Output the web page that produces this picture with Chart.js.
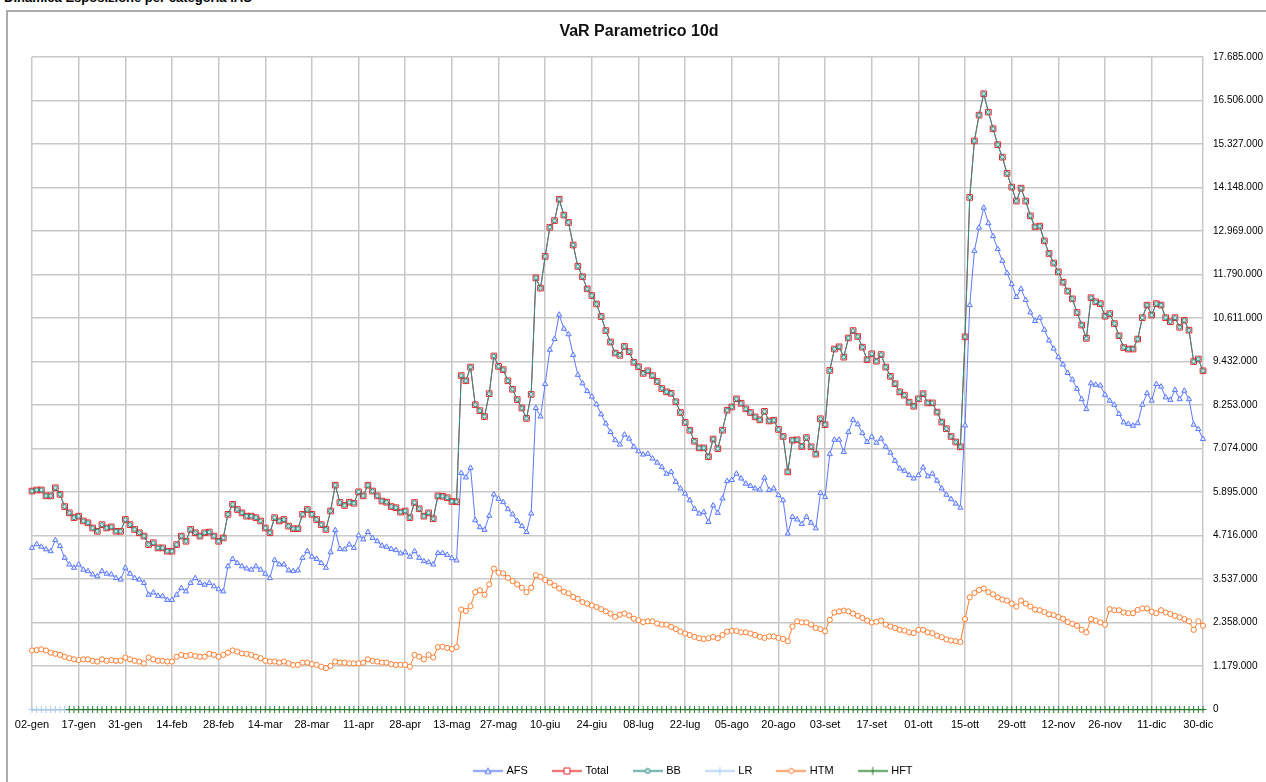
<!DOCTYPE html>
<html>
<head>
<meta charset="utf-8">
<script src="https://cdn.jsdelivr.net/npm/chart.js@4.4.1/dist/chart.umd.min.js"></script>
<style>
  html, body { margin: 0; padding: 0; background: #fff; overflow: hidden; }
  #sheetTitle { position: absolute; left: 4px; top: -10px; font: bold 13px 'Liberation Sans', Arial, sans-serif; color: #000; white-space: nowrap; }
  #frame { position: absolute; left: 6px; top: 10px; width: 1300px; height: 800px; border: 2px solid #ababab; }
  #chart { position: absolute; left: 0; top: 0; }
</style>
</head>
<body>
<div id="sheetTitle">Dinamica Esposizione per categoria IAS</div>
<div id="frame"></div>
<canvas id="chart" width="1266" height="782"></canvas>
<script>
// one label every 10 business days
const xTickLabels = ["02-gen", "17-gen", "31-gen", "14-feb", "28-feb", "14-mar", "28-mar", "11-apr", "28-apr",
  "13-mag", "27-mag", "10-giu", "24-giu", "08-lug", "22-lug", "05-ago", "20-ago", "03-set", "17-set",
  "01-ott", "15-ott", "29-ott", "12-nov", "26-nov", "11-dic", "30-dic"];

// daily values, in millions
const totalValues = [
  5.92, 5.95, 5.95, 5.79, 5.79, 6.01, 5.83, 5.50, 5.33, 5.20,
  5.24, 5.11, 5.06, 4.92, 4.83, 5.01, 4.92, 4.95, 4.83, 4.83,
  5.15, 5.01, 4.88, 4.79, 4.70, 4.47, 4.52, 4.38, 4.38, 4.29,
  4.29, 4.47, 4.70, 4.56, 4.88, 4.79, 4.70, 4.79, 4.81, 4.70,
  4.56, 4.65, 5.29, 5.56, 5.42, 5.33, 5.24, 5.24, 5.20, 5.11,
  4.92, 4.79, 5.20, 5.11, 5.15, 4.97, 4.90, 4.90, 5.29, 5.42,
  5.29, 5.15, 5.01, 4.88, 5.38, 6.08, 5.61, 5.53, 5.62, 5.59,
  5.90, 5.79, 6.08, 5.92, 5.79, 5.65, 5.62, 5.50, 5.47, 5.35,
  5.38, 5.20, 5.61, 5.44, 5.24, 5.33, 5.17, 5.79, 5.78, 5.74,
  5.64, 5.63, 9.05, 8.91, 9.28, 8.26, 8.10, 7.94, 8.56, 9.58,
  9.30, 9.21, 8.91, 8.68, 8.40, 8.17, 7.89, 8.54, 11.70, 11.42,
  12.28, 13.07, 13.25, 13.83, 13.40, 13.20, 12.59, 12.01, 11.73, 11.40,
  11.22, 10.99, 10.65, 10.27, 9.96, 9.66, 9.60, 9.84, 9.70, 9.41,
  9.29, 9.11, 9.18, 9.05, 8.89, 8.70, 8.61, 8.57, 8.34, 8.05,
  7.78, 7.57, 7.27, 7.09, 7.09, 6.85, 7.33, 7.07, 7.57, 8.11,
  8.20, 8.42, 8.30, 8.15, 8.05, 7.93, 7.85, 8.08, 7.82, 7.84,
  7.59, 7.40, 6.44, 7.30, 7.31, 7.13, 7.37, 7.12, 6.92, 7.88,
  7.72, 9.19, 9.77, 9.83, 9.55, 10.07, 10.27, 10.11, 9.82, 9.48,
  9.64, 9.44, 9.62, 9.28, 9.03, 8.83, 8.61, 8.52, 8.33, 8.22,
  8.42, 8.56, 8.31, 8.31, 8.06, 7.79, 7.61, 7.40, 7.25, 7.12,
  10.10, 13.88, 15.41, 16.11, 16.69, 16.19, 15.74, 15.31, 14.97, 14.53,
  14.16, 13.78, 14.13, 13.78, 13.38, 13.08, 13.10, 12.70, 12.36, 12.10,
  11.86, 11.58, 11.34, 11.13, 10.76, 10.42, 10.06, 11.16, 11.05, 11.00,
  10.66, 10.73, 10.46, 10.13, 9.81, 9.77, 9.77, 10.04, 10.62, 10.96,
  10.69, 11.00, 10.96, 10.62, 10.51, 10.62, 10.36, 10.55, 10.28, 9.43,
  9.50, 9.18
];

// BB lies exactly on top of Total in the picture
const bbValues = totalValues.slice();

const afsValues = [
  4.38, 4.48, 4.41, 4.34, 4.29, 4.59, 4.43, 4.11, 3.93, 3.84,
  3.93, 3.79, 3.75, 3.66, 3.61, 3.75, 3.68, 3.66, 3.56, 3.52,
  3.84, 3.68, 3.56, 3.52, 3.43, 3.11, 3.17, 3.08, 3.07, 2.97,
  2.97, 3.11, 3.29, 3.20, 3.43, 3.56, 3.43, 3.38, 3.43, 3.34,
  3.26, 3.20, 3.88, 4.08, 3.97, 3.88, 3.82, 3.79, 3.88, 3.79,
  3.68, 3.56, 4.05, 3.93, 3.93, 3.77, 3.75, 3.77, 4.11, 4.29,
  4.14, 4.08, 3.97, 3.84, 4.26, 4.86, 4.35, 4.34, 4.47, 4.38,
  4.72, 4.61, 4.81, 4.65, 4.56, 4.44, 4.41, 4.35, 4.32, 4.23,
  4.26, 4.14, 4.29, 4.11, 4.02, 3.99, 3.93, 4.24, 4.24, 4.19,
  4.10, 4.04, 6.41, 6.29, 6.55, 5.13, 4.94, 4.87, 5.25, 5.83,
  5.71, 5.62, 5.43, 5.29, 5.11, 4.97, 4.81, 5.31, 8.17, 7.94,
  8.82, 9.75, 10.04, 10.70, 10.32, 10.17, 9.61, 9.07, 8.84, 8.63,
  8.48, 8.27, 8.00, 7.75, 7.52, 7.30, 7.18, 7.45, 7.34, 7.12,
  7.00, 6.91, 6.93, 6.80, 6.69, 6.57, 6.39, 6.44, 6.17, 5.99,
  5.85, 5.67, 5.44, 5.31, 5.35, 5.08, 5.53, 5.33, 5.72, 6.19,
  6.22, 6.39, 6.26, 6.12, 6.06, 5.99, 5.96, 6.28, 5.95, 5.99,
  5.81, 5.67, 4.77, 5.22, 5.15, 5.03, 5.22, 5.06, 4.91, 5.87,
  5.76, 6.92, 7.31, 7.31, 6.98, 7.52, 7.85, 7.73, 7.49, 7.25,
  7.39, 7.23, 7.34, 7.12, 6.96, 6.74, 6.53, 6.47, 6.35, 6.26,
  6.35, 6.56, 6.32, 6.39, 6.20, 5.99, 5.82, 5.70, 5.58, 5.47,
  7.70, 10.96, 12.43, 13.06, 13.60, 13.18, 12.83, 12.48, 12.16, 11.83,
  11.53, 11.18, 11.40, 11.10, 10.76, 10.53, 10.62, 10.29, 10.00, 9.78,
  9.55, 9.35, 9.12, 8.94, 8.69, 8.41, 8.14, 8.84, 8.80, 8.78,
  8.53, 8.37, 8.26, 8.01, 7.78, 7.74, 7.69, 7.76, 8.26, 8.57,
  8.37, 8.82, 8.75, 8.46, 8.39, 8.66, 8.41, 8.64, 8.41, 7.72,
  7.60, 7.33
];

const htmValues = [
  1.60, 1.61, 1.63, 1.60, 1.54, 1.51, 1.48, 1.43, 1.39, 1.36,
  1.34, 1.36, 1.36, 1.32, 1.30, 1.36, 1.32, 1.34, 1.32, 1.32,
  1.41, 1.36, 1.32, 1.30, 1.25, 1.41, 1.36, 1.32, 1.32, 1.30,
  1.30, 1.43, 1.48, 1.45, 1.48, 1.45, 1.43, 1.43, 1.51, 1.48,
  1.43, 1.48, 1.54, 1.60, 1.57, 1.52, 1.51, 1.48, 1.43, 1.39,
  1.32, 1.30, 1.30, 1.27, 1.30, 1.25, 1.21, 1.21, 1.27, 1.27,
  1.23, 1.21, 1.16, 1.12, 1.18, 1.30, 1.27, 1.27, 1.25, 1.25,
  1.25, 1.27, 1.36, 1.32, 1.30, 1.27, 1.27, 1.23, 1.21, 1.21,
  1.21, 1.16, 1.48, 1.43, 1.36, 1.48, 1.41, 1.69, 1.70, 1.67,
  1.64, 1.69, 2.71, 2.67, 2.80, 3.18, 3.23, 3.11, 3.39, 3.82,
  3.71, 3.69, 3.57, 3.48, 3.39, 3.30, 3.18, 3.30, 3.64, 3.60,
  3.51, 3.44, 3.36, 3.28, 3.19, 3.15, 3.05, 3.00, 2.91, 2.87,
  2.82, 2.78, 2.72, 2.66, 2.60, 2.51, 2.57, 2.60, 2.55, 2.46,
  2.42, 2.37, 2.39, 2.39, 2.33, 2.30, 2.30, 2.24, 2.18, 2.11,
  2.06, 2.02, 1.97, 1.93, 1.91, 1.93, 1.97, 1.93, 2.02, 2.11,
  2.13, 2.13, 2.09, 2.09, 2.06, 2.02, 1.97, 1.94, 1.98, 1.98,
  1.94, 1.91, 1.85, 2.25, 2.39, 2.36, 2.36, 2.30, 2.21, 2.18,
  2.12, 2.43, 2.63, 2.66, 2.68, 2.66, 2.60, 2.54, 2.48, 2.41,
  2.36, 2.38, 2.41, 2.30, 2.25, 2.21, 2.16, 2.14, 2.09, 2.07,
  2.16, 2.16, 2.09, 2.07, 2.00, 1.96, 1.90, 1.87, 1.85, 1.83,
  2.45, 3.04, 3.16, 3.24, 3.28, 3.18, 3.12, 3.04, 2.98, 2.95,
  2.87, 2.79, 2.95, 2.87, 2.79, 2.71, 2.69, 2.64, 2.58, 2.56,
  2.51, 2.46, 2.37, 2.32, 2.27, 2.16, 2.09, 2.45, 2.41, 2.36,
  2.30, 2.72, 2.69, 2.69, 2.63, 2.61, 2.61, 2.70, 2.74, 2.74,
  2.65, 2.61, 2.69, 2.63, 2.59, 2.54, 2.50, 2.45, 2.39, 2.16,
  2.39, 2.27
];

// LR only has the first 8 days, HFT starts on day 8; both sit at zero
const lrValues = [0, 0, 0, 0, 0, 0, 0, 0];
const hftStart = 8;
const hftValues = [
  0, 0, 0, 0, 0, 0, 0, 0, 0, 0, 0, 0, 0, 0, 0, 0, 0, 0, 0, 0,
  0, 0, 0, 0, 0, 0, 0, 0, 0, 0, 0, 0, 0, 0, 0, 0, 0, 0, 0, 0,
  0, 0, 0, 0, 0, 0, 0, 0, 0, 0, 0, 0, 0, 0, 0, 0, 0, 0, 0, 0,
  0, 0, 0, 0, 0, 0, 0, 0, 0, 0, 0, 0, 0, 0, 0, 0, 0, 0, 0, 0,
  0, 0, 0, 0, 0, 0, 0, 0, 0, 0, 0, 0, 0, 0, 0, 0, 0, 0, 0, 0,
  0, 0, 0, 0, 0, 0, 0, 0, 0, 0, 0, 0, 0, 0, 0, 0, 0, 0, 0, 0,
  0, 0, 0, 0, 0, 0, 0, 0, 0, 0, 0, 0, 0, 0, 0, 0, 0, 0, 0, 0,
  0, 0, 0, 0, 0, 0, 0, 0, 0, 0, 0, 0, 0, 0, 0, 0, 0, 0, 0, 0,
  0, 0, 0, 0, 0, 0, 0, 0, 0, 0, 0, 0, 0, 0, 0, 0, 0, 0, 0, 0,
  0, 0, 0, 0, 0, 0, 0, 0, 0, 0, 0, 0, 0, 0, 0, 0, 0, 0, 0, 0,
  0, 0, 0, 0, 0, 0, 0, 0, 0, 0, 0, 0, 0, 0, 0, 0, 0, 0, 0, 0,
  0, 0, 0, 0, 0, 0, 0, 0, 0, 0, 0, 0, 0, 0, 0, 0, 0, 0, 0, 0,
  0, 0, 0, 0
];

const FONT = "'Liberation Sans', Arial, sans-serif";
const GRID = '#c8c8c8';

const toPoints = (values, start) => values.map((v, k) => ({ x: start + k, y: v }));

function makeSeries(label, values, start, color, style, radius, fill, order) {
  return {
    label, data: toPoints(values, start), order,
    borderColor: color, backgroundColor: color, borderWidth: 1,
    pointStyle: style, pointRadius: radius, pointHoverRadius: radius,
    pointBorderColor: color, pointBackgroundColor: fill, pointBorderWidth: 1,
    tension: 0, fill: false, clip: false
  };
}

// little "line + marker" picture like the Excel legend
function legendIcon(ds) {
  const c = document.createElement('canvas');
  c.width = 30; c.height = 11;
  const g = c.getContext('2d');
  g.strokeStyle = ds.borderColor; g.lineWidth = 1.5;
  g.beginPath(); g.moveTo(0, 5.5); g.lineTo(30, 5.5); g.stroke();
  const cx = 15, cy = 5.5;
  g.lineWidth = 1;
  g.strokeStyle = ds.pointBorderColor; g.fillStyle = ds.pointBackgroundColor;
  g.beginPath();
  if (ds.pointStyle === 'triangle') {
    g.moveTo(cx, cy - 3); g.lineTo(cx + 3, cy + 2.5); g.lineTo(cx - 3, cy + 2.5); g.closePath(); g.fill(); g.stroke();
  } else if (ds.pointStyle === 'rect') {
    g.fillStyle = '#fff'; g.rect(cx - 3, cy - 3, 6, 6); g.fill(); g.stroke();
  } else if (ds.pointStyle === 'circle') {
    g.arc(cx, cy, 2.5, 0, Math.PI * 2); g.fill(); g.stroke();
  } else {
    g.moveTo(cx, cy - 4); g.lineTo(cx, cy + 4); g.moveTo(cx - 4, cy); g.lineTo(cx + 4, cy); g.stroke();
  }
  return c;
}

// move title and legend to where Excel put them
const placeBlocks = {
  id: 'placeBlocks',
  afterLayout(chart) {
    const lg = chart.legend;
    const w = lg.right - lg.left;
    lg.left = 449; lg.right = 449 + w;
    lg.top += 4.5; lg.bottom += 4.5;
    const t = chart.titleBlock;
    t.left -= 10; t.right -= 10;
  }
};

const fmtThousands = v => {
  const n = Math.round(v * 1000) * 1000;
  return n === 0 ? '0' : String(n).replace(/\B(?=(\d{3})+(?!\d))/g, '.');
};

new Chart(document.getElementById('chart'), {
  type: 'line',
  data: {
    datasets: [
      makeSeries('AFS', afsValues, 0, '#5b79ff', 'triangle', 3, '#e2e8ff', 6),
      makeSeries('Total', totalValues, 0, '#e8262a', 'rect', 4, 'rgba(255,255,255,0)', 5),
      makeSeries('BB', bbValues, 0, '#2f8f89', 'circle', 2, '#c4e4e1', 4),
      makeSeries('LR', lrValues, 0, '#a4cbf4', 'cross', 3.5, '#a4cbf4', 3),
      makeSeries('HTM', htmValues, 0, '#ff7c2c', 'circle', 2.6, '#ffffff', 2),
      makeSeries('HFT', hftValues, hftStart, '#1f7d28', 'cross', 3.5, '#1f7d28', 1)
    ]
  },
  plugins: [placeBlocks],
  options: {
    responsive: false,
    animation: false,
    devicePixelRatio: 1,
    events: [],
    layout: { padding: { left: 32, right: 0, top: 0, bottom: 0 } },
    plugins: {
      tooltip: { enabled: false },
      title: {
        display: true,
        text: 'VaR Parametrico 10d',
        color: '#111',
        font: { family: FONT, size: 16, weight: 'bold' },
        padding: { top: 22, bottom: 15.8 }
      },
      legend: {
        position: 'bottom',
        align: 'start',
        labels: {
          font: { family: FONT, size: 11 },
          color: '#000',
          padding: 26,
          usePointStyle: true,
          pointStyleWidth: 26,
          generateLabels(chart) {
            return chart.data.datasets.map((ds, i) => ({
              text: ds.label,
              fillStyle: ds.backgroundColor,
              strokeStyle: ds.borderColor,
              lineWidth: 0,
              hidden: false,
              datasetIndex: i,
              fontColor: '#000',
              pointStyle: legendIcon(ds)
            }));
          }
        }
      }
    },
    scales: {
      x: {
        type: 'linear',
        min: 0,
        max: 251,
        afterFit: s => { s.height = 25.5; },
        ticks: {
          stepSize: 10,
          autoSkip: false,
          maxRotation: 0,
          includeBounds: false,
          padding: 9,
          color: '#000',
          font: { family: FONT, size: 11 },
          callback: v => xTickLabels[v / 10] ?? ''
        },
        // no vertical line under the last label, only the plot edge
        grid: {
          color: c => (c.tick && c.tick.value === 250 ? 'rgba(0,0,0,0)' : GRID),
          lineWidth: 1.5,
          drawTicks: false
        },
        border: { color: GRID, width: 1.5 }
      },
      y: {
        position: 'right',
        min: 0,
        max: 17.685,
        afterFit: s => { s.width = 63; },
        ticks: {
          stepSize: 1.179,
          padding: 10,
          color: '#000',
          font: { family: FONT, size: 10 },
          callback: fmtThousands
        },
        grid: { color: GRID, lineWidth: 1.5, drawTicks: false },
        border: { color: GRID, width: 1.5 }
      }
    }
  }
});
</script>
</body>
</html>
